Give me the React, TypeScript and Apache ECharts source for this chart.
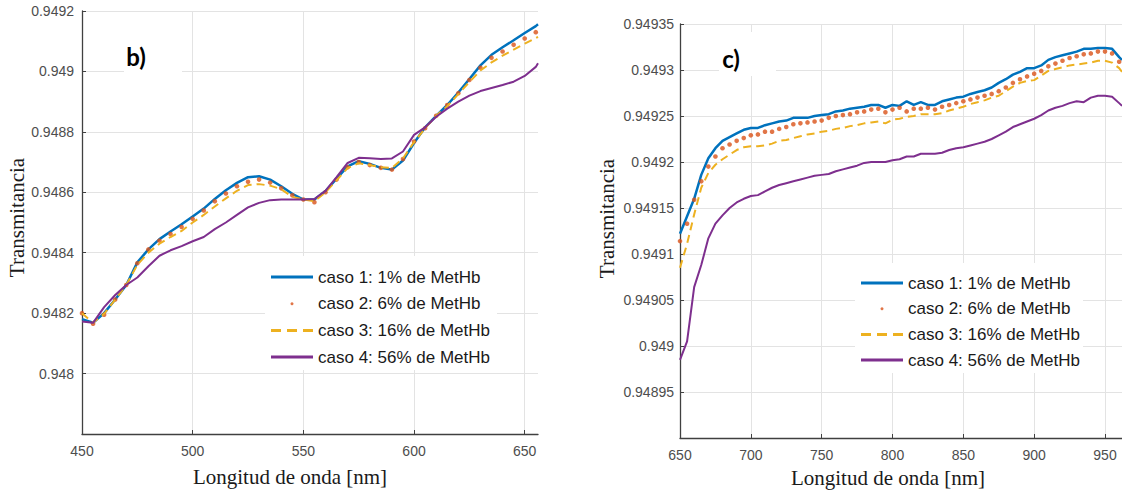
import React, { useEffect, useRef } from "react";
import * as echarts from "echarts";

// ---------- Panel b) 450–656 nm ----------
const waveB = [450, 455, 460, 465, 470, 475, 480, 485, 490, 495, 500, 505, 510, 515, 520, 525, 530, 535, 540, 545, 550, 555, 560, 565, 570, 575, 580, 585, 590, 595, 600, 605, 610, 615, 620, 625, 630, 635, 640, 645, 650, 655, 656];
const b1 = [0.948180, 0.948168, 0.948200, 0.948245, 0.948293, 0.948368, 0.948411, 0.948445, 0.948470, 0.948494, 0.948520, 0.948546, 0.948578, 0.948607, 0.948631, 0.948650, 0.948653, 0.948642, 0.948620, 0.948595, 0.948576, 0.948576, 0.948604, 0.948645, 0.948686, 0.948703, 0.948694, 0.948681, 0.948675, 0.948705, 0.948763, 0.948815, 0.948853, 0.948889, 0.948930, 0.948975, 0.949020, 0.949055, 0.949080, 0.949103, 0.949127, 0.949150, 0.949156];
const b2 = [0.948200, 0.948165, 0.948195, 0.948245, 0.948293, 0.948365, 0.948411, 0.948440, 0.948462, 0.948485, 0.948512, 0.948540, 0.948570, 0.948596, 0.948620, 0.948635, 0.948642, 0.948632, 0.948613, 0.948590, 0.948576, 0.948567, 0.948600, 0.948642, 0.948683, 0.948700, 0.948690, 0.948681, 0.948675, 0.948710, 0.948768, 0.948812, 0.948853, 0.948889, 0.948928, 0.948972, 0.949012, 0.949045, 0.949066, 0.949088, 0.949109, 0.949130];
const b3 = [0.948200, 0.948168, 0.948198, 0.948245, 0.948293, 0.948360, 0.948400, 0.948430, 0.948452, 0.948472, 0.948500, 0.948525, 0.948553, 0.948580, 0.948605, 0.948624, 0.948627, 0.948622, 0.948610, 0.948585, 0.948576, 0.948570, 0.948600, 0.948640, 0.948680, 0.948696, 0.948690, 0.948683, 0.948680, 0.948712, 0.948766, 0.948812, 0.948853, 0.948885, 0.948925, 0.948965, 0.949003, 0.949030, 0.949052, 0.949072, 0.949092, 0.949110, 0.949114];
const b4 = [0.948172, 0.948168, 0.948220, 0.948260, 0.948293, 0.948318, 0.948355, 0.948390, 0.948408, 0.948422, 0.948438, 0.948452, 0.948478, 0.948500, 0.948525, 0.948550, 0.948565, 0.948574, 0.948576, 0.948576, 0.948576, 0.948578, 0.948605, 0.948650, 0.948697, 0.948714, 0.948713, 0.948710, 0.948712, 0.948735, 0.948790, 0.948815, 0.948850, 0.948877, 0.948900, 0.948920, 0.948935, 0.948945, 0.948955, 0.948966, 0.948985, 0.949015, 0.949027];

// ---------- Panel c) 650–962 nm ----------
const waveC = [650, 655, 660, 665, 670, 675, 680, 685, 690, 695, 700, 705, 710, 715, 720, 725, 730, 735, 740, 745, 750, 755, 760, 765, 770, 775, 780, 785, 790, 795, 800, 805, 810, 815, 820, 825, 830, 835, 840, 845, 850, 855, 860, 865, 870, 875, 880, 885, 890, 895, 900, 905, 910, 915, 920, 925, 930, 935, 940, 945, 950, 955, 960, 962];
const c1 = [0.949122, 0.949141, 0.949160, 0.949186, 0.949204, 0.949215, 0.949223, 0.949227, 0.949231, 0.949235, 0.949237, 0.949237, 0.949240, 0.949242, 0.949244, 0.949245, 0.949248, 0.949248, 0.949248, 0.949250, 0.949251, 0.949252, 0.949255, 0.949256, 0.949258, 0.949259, 0.949260, 0.949262, 0.949262, 0.949259, 0.949262, 0.949261, 0.949266, 0.949262, 0.949265, 0.949262, 0.949262, 0.949266, 0.949268, 0.949270, 0.949271, 0.949274, 0.949276, 0.949278, 0.949281, 0.949286, 0.949290, 0.949295, 0.949298, 0.949302, 0.949302, 0.949305, 0.949311, 0.949314, 0.949316, 0.949318, 0.949320, 0.949323, 0.949323, 0.949324, 0.949324, 0.949323, 0.949314, 0.949311];
const c2 = [0.949114, 0.949133, 0.949159, 0.949179, 0.949195, 0.949206, 0.949215, 0.949219, 0.949223, 0.949226, 0.949229, 0.949230, 0.949233, 0.949233, 0.949236, 0.949238, 0.949241, 0.949242, 0.949243, 0.949244, 0.949245, 0.949248, 0.949250, 0.949251, 0.949252, 0.949254, 0.949255, 0.949257, 0.949258, 0.949254, 0.949257, 0.949259, 0.949255, 0.949258, 0.949258, 0.949259, 0.949257, 0.949260, 0.949262, 0.949264, 0.949266, 0.949268, 0.949270, 0.949272, 0.949274, 0.949277, 0.949281, 0.949286, 0.949290, 0.949293, 0.949296, 0.949299, 0.949304, 0.949307, 0.949310, 0.949313, 0.949315, 0.949317, 0.949318, 0.949320, 0.949320, 0.949318, 0.949309];
const c3 = [0.949085, 0.949111, 0.949143, 0.949172, 0.949188, 0.949197, 0.949203, 0.949208, 0.949213, 0.949216, 0.949217, 0.949217, 0.949218, 0.949220, 0.949223, 0.949224, 0.949226, 0.949228, 0.949230, 0.949231, 0.949233, 0.949234, 0.949236, 0.949237, 0.949239, 0.949240, 0.949242, 0.949243, 0.949244, 0.949242, 0.949246, 0.949247, 0.949249, 0.949250, 0.949252, 0.949252, 0.949252, 0.949253, 0.949256, 0.949258, 0.949260, 0.949263, 0.949265, 0.949267, 0.949270, 0.949272, 0.949277, 0.949282, 0.949286, 0.949288, 0.949289, 0.949294, 0.949299, 0.949301, 0.949303, 0.949305, 0.949306, 0.949307, 0.949308, 0.949310, 0.949310, 0.949308, 0.949302, 0.949298];
const c4 = [0.948985, 0.949005, 0.949064, 0.949088, 0.949117, 0.949133, 0.949142, 0.949150, 0.949156, 0.949160, 0.949163, 0.949164, 0.949168, 0.949172, 0.949175, 0.949177, 0.949179, 0.949181, 0.949183, 0.949185, 0.949186, 0.949187, 0.949190, 0.949192, 0.949194, 0.949196, 0.949199, 0.949200, 0.949200, 0.949200, 0.949202, 0.949203, 0.949206, 0.949206, 0.949209, 0.949209, 0.949209, 0.949210, 0.949213, 0.949215, 0.949216, 0.949218, 0.949220, 0.949222, 0.949225, 0.949229, 0.949233, 0.949238, 0.949241, 0.949244, 0.949247, 0.949251, 0.949256, 0.949259, 0.949261, 0.949264, 0.949266, 0.949265, 0.949270, 0.949272, 0.949272, 0.949271, 0.949264, 0.949261];

const seriesNames = ["caso 1: 1% de MetHb", "caso 2: 6% de MetHb", "caso 3: 16% de MetHb", "caso 4: 56% de MetHb"];
const colors = ["#0072BD", "#D95319", "#EDB120", "#7E2F8E"];

const pairs = (xs: number[], ys: number[]) => ys.map((y, i) => [xs[i], y]);

const SANS = "'Liberation Sans', Arial, sans-serif";
const SERIF = "'Liberation Serif', 'Times New Roman', serif";
const AX = "#404040";
const GRID = "#e3e3e3";

function makeSeries(idx: number, xs: number[], data: number[][]) {
  return [
    {
      name: seriesNames[0], type: "line", xAxisIndex: idx, yAxisIndex: idx,
      data: pairs(xs, data[0]), symbol: "none", z: 2,
      lineStyle: { color: colors[0], width: 2.5 }, itemStyle: { color: colors[0] },
    },
    {
      name: seriesNames[1], type: "scatter", xAxisIndex: idx, yAxisIndex: idx,
      data: pairs(xs, data[1]), symbol: "circle", symbolSize: 4.6, z: 3,
      itemStyle: { color: colors[1] },
    },
    {
      name: seriesNames[2], type: "line", xAxisIndex: idx, yAxisIndex: idx,
      data: pairs(xs, data[2]), symbol: "none", z: 4,
      lineStyle: { color: colors[2], width: 2, type: [8, 5] }, itemStyle: { color: colors[2] },
    },
    {
      name: seriesNames[3], type: "line", xAxisIndex: idx, yAxisIndex: idx,
      data: pairs(xs, data[3]), symbol: "none", z: 5,
      lineStyle: { color: colors[3], width: 2 }, itemStyle: { color: colors[3] },
    },
  ];
}

function xAxisOpt(gridIndex: number, min: number, max: number) {
  return {
    type: "value", gridIndex, min, max, interval: 50,
    axisLine: { show: true, onZero: false, lineStyle: { color: AX, width: 1.3 } },
    axisTick: { show: true, inside: true, length: 4, lineStyle: { color: AX } },
    axisLabel: { fontFamily: SANS, fontSize: 14, color: "#4d4d4d", margin: 10, showMaxLabel: false },
    splitLine: { show: true, showMaxLine: false, lineStyle: { color: GRID, width: 1 } },
  };
}

function yAxisOpt(gridIndex: number, min: number, max: number, interval: number, margin: number) {
  return {
    type: "value", gridIndex, min, max, interval,
    axisLine: { show: true, onZero: false, lineStyle: { color: AX, width: 1.3 } },
    axisTick: { show: true, inside: true, length: 4, lineStyle: { color: AX } },
    axisLabel: { fontFamily: SANS, fontSize: 14, color: "#4d4d4d", margin, showMinLabel: false },
    splitLine: { show: true, lineStyle: { color: GRID, width: 1 } },
  };
}

const dashIcon = "path://M0 0H10V3H0ZM16 0H26V3H16ZM32 0H42V3H32Z";
const legendData = [
  { name: seriesNames[0], icon: "rect", itemStyle: { color: colors[0], borderWidth: 0 } },
  { name: seriesNames[1], icon: "circle", itemStyle: { color: colors[1], borderWidth: 0 } },
  { name: seriesNames[2], icon: dashIcon, itemStyle: { color: colors[2], borderWidth: 0 } },
  { name: seriesNames[3], icon: "rect", itemStyle: { color: colors[3], borderWidth: 0 } },
];

function legendOpt(left: number, top: number, padding: number[], itemGap: number) {
  return {
    orient: "vertical", left, top, padding, itemGap,
    backgroundColor: "#ffffff",
    itemWidth: 42, itemHeight: 3,
    selectedMode: false,
    textStyle: { fontFamily: SANS, fontSize: 17, color: "#1a1a1a", lineHeight: 20 },
    data: legendData,
  };
}

export default function App() {
  const ref = useRef<HTMLDivElement>(null);
  useEffect(() => {
    if (!ref.current) return;
    const chart = echarts.init(ref.current, undefined, { renderer: "svg" });
    const option = {
      animation: false,
      backgroundColor: "#ffffff",
      grid: [
        { left: 82, top: 11, width: 456, height: 423 },
        { left: 680, top: 24, width: 442, height: 414 },
      ],
      xAxis: [xAxisOpt(0, 450, 656), xAxisOpt(1, 650, 962)],
      yAxis: [
        yAxisOpt(0, 0.9478, 0.9492, 0.0002, 8),
        yAxisOpt(1, 0.9489, 0.94935, 0.00005, 6),
      ],
      legend: [
        legendOpt(265, 256, [11, 7, 3, 6], 6.7),
        legendOpt(855, 263, [10, 3, 3, 6], 5.7),
      ],
      series: [
        ...makeSeries(0, waveB, [b1, b2, b3, b4]),
        ...makeSeries(1, waveC, [c1, c2, c3, c4]),
      ],
      graphic: [
        { type: "rect", z: 50, shape: { x: 124, y: 30, width: 58, height: 46 }, style: { fill: "#ffffff" } },
        { type: "text", z: 51, x: 136, y: 56, style: { text: "b)", fontFamily: "Lato, 'Open Sans', sans-serif", fontWeight: "bold", fontSize: 24, fill: "#000000", align: "center", verticalAlign: "middle" } },
        { type: "rect", z: 50, shape: { x: 719, y: 32, width: 57, height: 44 }, style: { fill: "#ffffff" } },
        { type: "text", z: 51, x: 731, y: 58, style: { text: "c)", fontFamily: "Lato, 'Open Sans', sans-serif", fontWeight: "bold", fontSize: 24, fill: "#000000", align: "center", verticalAlign: "middle" } },
        { type: "text", z: 51, x: 16.5, y: 217.5, rotation: Math.PI / 2, style: { text: "Transmitancia", fontFamily: SERIF, fontSize: 21, fill: "#1a1a1a", align: "center", verticalAlign: "middle" } },
        { type: "text", z: 51, x: 290, y: 477, style: { text: "Longitud de onda [nm]", fontFamily: SERIF, fontSize: 21, fill: "#1a1a1a", align: "center", verticalAlign: "middle" } },
        { type: "text", z: 51, x: 606.5, y: 218.5, rotation: Math.PI / 2, style: { text: "Transmitancia", fontFamily: SERIF, fontSize: 21, fill: "#1a1a1a", align: "center", verticalAlign: "middle" } },
        { type: "text", z: 51, x: 888, y: 478, style: { text: "Longitud de onda [nm]", fontFamily: SERIF, fontSize: 21, fill: "#1a1a1a", align: "center", verticalAlign: "middle" } },
      ],
    };
    chart.setOption(option as any);
    return () => chart.dispose();
  }, []);
  return (
    <div
      ref={ref}
      style={{ position: "fixed", left: 0, top: 0, width: 1122, height: 491, background: "#fff" }}
    />
  );
}
